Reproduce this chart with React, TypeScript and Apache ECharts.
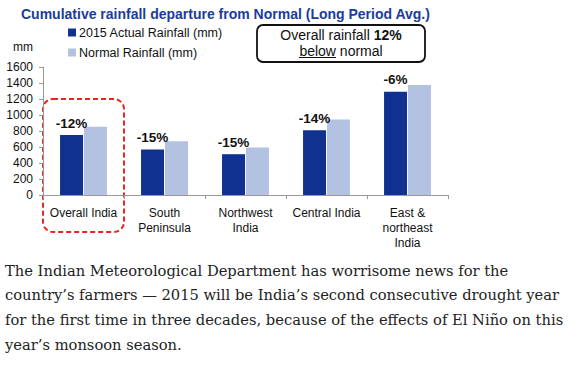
import React, { useEffect, useRef } from "react";
import * as echarts from "echarts";

const categories = ["Overall India", "South\nPeninsula", "Northwest\nIndia", "Central India", "East &\nnortheast\nIndia"];
const actual2015 = [750, 570, 510, 810, 1290];
const normal = [852, 672, 595, 945, 1375];
const departures = ["-12%", "-15%", "-15%", "-14%", "-6%"];
const yTicks = { min: 0, max: 1600, interval: 200 };
const paragraph = [
  "The Indian Meteorological Department has worrisome news for the",
  "country\u2019s farmers \u2014 2015 will be India\u2019s second consecutive drought year",
  "for the first time in three decades, because of the effects of El Ni\u00f1o on this",
  "year\u2019s monsoon season.",
];

const SANS = "Arial, 'Liberation Sans', sans-serif";
const SERIF = "'DejaVu Serif', Georgia, serif";

export default function App() {
  const ref = useRef<HTMLDivElement>(null);
  useEffect(() => {
    if (!ref.current) return;
    const chart = echarts.init(ref.current, undefined, { renderer: "svg" });
    chart.setOption({
      animation: false,
      backgroundColor: "#fff",
      title: {
        text: "Cumulative rainfall departure from Normal (Long Period Avg.)",
        left: 21,
        top: 7,
        padding: 0,
        textStyle: { fontFamily: SANS, fontSize: 14, fontWeight: "bold", color: "#1b3c9a" },
      },
      legend: {
        orient: "vertical",
        left: 68,
        top: 26,
        padding: 0,
        itemWidth: 8,
        itemHeight: 8,
        itemGap: 7,
        icon: "rect",
        textStyle: { fontFamily: SANS, fontSize: 12.5, color: "#111", padding: [0, 0, 0, -2] },
        data: ["2015 Actual Rainfall (mm)", "Normal Rainfall (mm)"],
      },
      grid: { left: 43, right: 130, top: 67, bottom: 171 },
      xAxis: {
        type: "category",
        data: categories,
        axisLine: { lineStyle: { color: "#999" } },
        axisTick: { show: true, length: 4, lineStyle: { color: "#999" } },
        axisLabel: { fontFamily: SANS, fontSize: 12, color: "#111", margin: 10, lineHeight: 15, interval: 0 },
      },
      yAxis: {
        type: "value",
        min: yTicks.min,
        max: yTicks.max,
        interval: yTicks.interval,
        splitLine: { show: false },
        axisLine: { show: true, lineStyle: { color: "#999" } },
        axisTick: { show: true, length: 4, lineStyle: { color: "#999" } },
        axisLabel: { fontFamily: SANS, fontSize: 12, color: "#111", margin: 10, formatter: (v: number) => String(v) },
      },
      series: [
        {
          name: "2015 Actual Rainfall (mm)",
          type: "bar",
          data: actual2015,
          barWidth: 23,
          barGap: "4%",
          itemStyle: { color: "#10318f" },
          label: {
            show: true,
            position: "top",
            distance: 5,
            formatter: (p: any) => departures[p.dataIndex],
            fontFamily: SANS,
            fontSize: 13.5,
            fontWeight: "bold",
            color: "#111",
          },
        },
        {
          name: "Normal Rainfall (mm)",
          type: "bar",
          data: normal,
          barWidth: 23,
          itemStyle: { color: "#b3c2e1" },
        },
      ],
      graphic: [
        {
          type: "text",
          x: 23,
          y: 47,
          style: { text: "mm", align: "center", verticalAlign: "middle", fontFamily: SANS, fontSize: 12, fill: "#111" },
        },
        {
          type: "rect",
          shape: { x: 257, y: 25, width: 168, height: 37, r: 6 },
          style: { fill: "none", stroke: "#111", lineWidth: 1.8 },
        },
        {
          type: "text",
          x: 341,
          y: 35,
          style: {
            text: "Overall rainfall {b|12%}",
            align: "center",
            verticalAlign: "middle",
            fontFamily: SANS,
            fontSize: 14,
            fill: "#111",
            rich: { b: { fontFamily: SANS, fontSize: 14, fontWeight: "bold", fill: "#111" } },
          },
        },
        {
          type: "text",
          x: 341,
          y: 51,
          style: {
            text: "below normal",
            align: "center",
            verticalAlign: "middle",
            fontFamily: SANS,
            fontSize: 14,
            fill: "#111",
          },
        },
        {
          type: "line",
          shape: { x1: 299, y1: 57.5, x2: 336, y2: 57.5 },
          style: { stroke: "#111", lineWidth: 1 },
        },
        {
          type: "rect",
          shape: { x: 43, y: 99, width: 81, height: 133, r: 10 },
          style: { fill: "none", stroke: "#e8261c", lineWidth: 2, lineDash: [5, 3] },
        },
        ...paragraph.map((line, i) => ({
          type: "text",
          x: 5,
          y: 270 + i * 24.8,
          style: {
            text: line,
            verticalAlign: "middle",
            fontFamily: SERIF,
            fontSize: 14.7,
            fill: "#222",
          },
        })),
      ],
    });
    return () => chart.dispose();
  }, []);
  return (
    <div
      ref={ref}
      style={{ position: "fixed", left: 0, top: 0, width: 578, height: 366, background: "#fff" }}
    />
  );
}
